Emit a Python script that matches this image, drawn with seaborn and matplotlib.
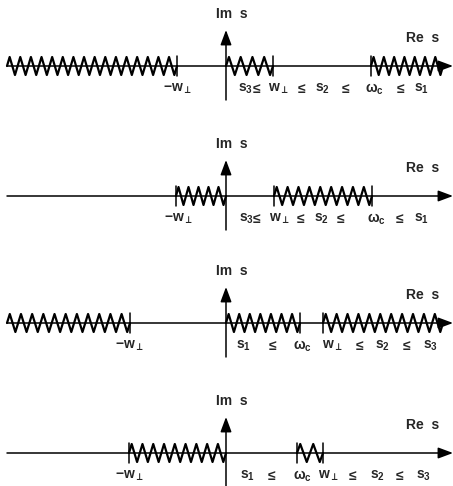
import numpy as np
import pandas as pd
import matplotlib
matplotlib.use("Agg")
import matplotlib.pyplot as plt
import seaborn as sns

# branch cuts on the real axis for each panel (None = runs off to infinity)
cuts_1 = [(None, -49), (0, 47), (145, None)]
cuts_2 = [(-50, 0), (48, 146)]
cuts_3 = [(None, -96), (0, 74), (97, None)]
cuts_4 = [(-97, 0), (71, 97)]

# ordering labels below the axis: (text, position along Re s)
labels_1 = [(r"$-w_\bot$", -48), (r"$s_3$", 19), ("≤", 31), (r"$w_\bot$", 52), ("≤", 76),
            (r"$s_2$", 96), ("≤", 120), (r"$\omega_c$", 148), ("≤", 175), (r"$s_1$", 195)]
labels_2 = [(r"$-w_\bot$", -47), (r"$s_3$", 20), ("≤", 31), (r"$w_\bot$", 53), ("≤", 75),
            (r"$s_2$", 95), ("≤", 115), (r"$\omega_c$", 150), ("≤", 174), (r"$s_1$", 195)]
labels_3 = [(r"$-w_\bot$", -96), (r"$s_1$", 17), ("≤", 47), (r"$\omega_c$", 76), (r"$w_\bot$", 106),
            ("≤", 134), (r"$s_2$", 156), ("≤", 181), (r"$s_3$", 204)]
labels_4 = [(r"$-w_\bot$", -96), (r"$s_1$", 21), ("≤", 46), (r"$\omega_c$", 76), (r"$w_\bot$", 102),
            ("≤", 127), (r"$s_2$", 151), ("≤", 174), (r"$s_3$", 197)]

panels = [(cuts_1, labels_1), (cuts_2, labels_2), (cuts_3, labels_3), (cuts_4, labels_4)]
centers_px = [66, 196, 323, 453]   # where each real axis sits, from top of figure

W, H = 453, 486
X_LEFT, X_RIGHT = -219, 217
AMP = 9.0


def zigzag(a, b, period=10.8):
    n = max(1, int(round((b - a) / period)))
    p = (b - a) / n
    xs, ys = [a], [0.0]
    for k in range(n):
        xs += [a + k * p + p / 4, a + k * p + 3 * p / 4]
        ys += [AMP, -AMP]
    xs.append(b)
    ys.append(0.0)
    return pd.DataFrame({"x": xs, "y": ys})


sns.set_theme(style="white")
plt.rcParams["font.family"] = ["Liberation Sans", "DejaVu Sans"]
plt.rcParams["font.weight"] = "bold"
plt.rcParams["mathtext.fontset"] = "custom"
plt.rcParams["mathtext.rm"] = "Liberation Sans:bold"
plt.rcParams["mathtext.it"] = "Liberation Sans:bold"
plt.rcParams["mathtext.bf"] = "Liberation Sans:bold"
plt.rcParams["mathtext.sf"] = "Liberation Sans:bold"
plt.rcParams["mathtext.fallback"] = "stixsans"

fig = plt.figure(figsize=(W / 100, H / 100), dpi=100)

for (cuts, labels), yc in zip(panels, centers_px):
    ax = fig.add_axes([0, (H - yc - 60) / H, 1, 120 / H])
    ax.set_xlim(-226, W - 226)
    ax.set_ylim(-60, 60)
    ax.axis("off")

    # real axis with arrow
    ax.annotate("", xy=(W - 226, 0), xytext=(X_LEFT, 0),
                arrowprops=dict(arrowstyle="-|>,head_length=0.75,head_width=0.28",
                                color="black", lw=1.1, shrinkA=0, shrinkB=0))
    # imaginary axis with arrow
    ax.annotate("", xy=(0, 36), xytext=(0, -34),
                arrowprops=dict(arrowstyle="-|>,head_length=0.75,head_width=0.28",
                                color="black", lw=1.1, shrinkA=0, shrinkB=0))

    for a, b in cuts:
        a0 = X_LEFT if a is None else a
        b0 = X_RIGHT if b is None else b
        sns.lineplot(data=zigzag(a0, b0), x="x", y="y", ax=ax, color="black",
                     lw=1.6, sort=False, estimator=None)
        for end in (a, b):
            if end is not None and end != 0:
                ax.plot([end, end], [-AMP - 1, AMP + 1], color="black", lw=1.1)

    ax.text(6, 52, "Im  s", ha="center", va="center", fontsize=10, fontweight="bold")
    ax.text(197, 28, "Re  s", ha="center", va="center", fontsize=10, fontweight="bold")
    for txt, xpos in labels:
        ax.text(xpos, -23, txt, ha="center", va="center", fontsize=10, fontweight="bold")

fig.savefig("out.png", dpi=100)
